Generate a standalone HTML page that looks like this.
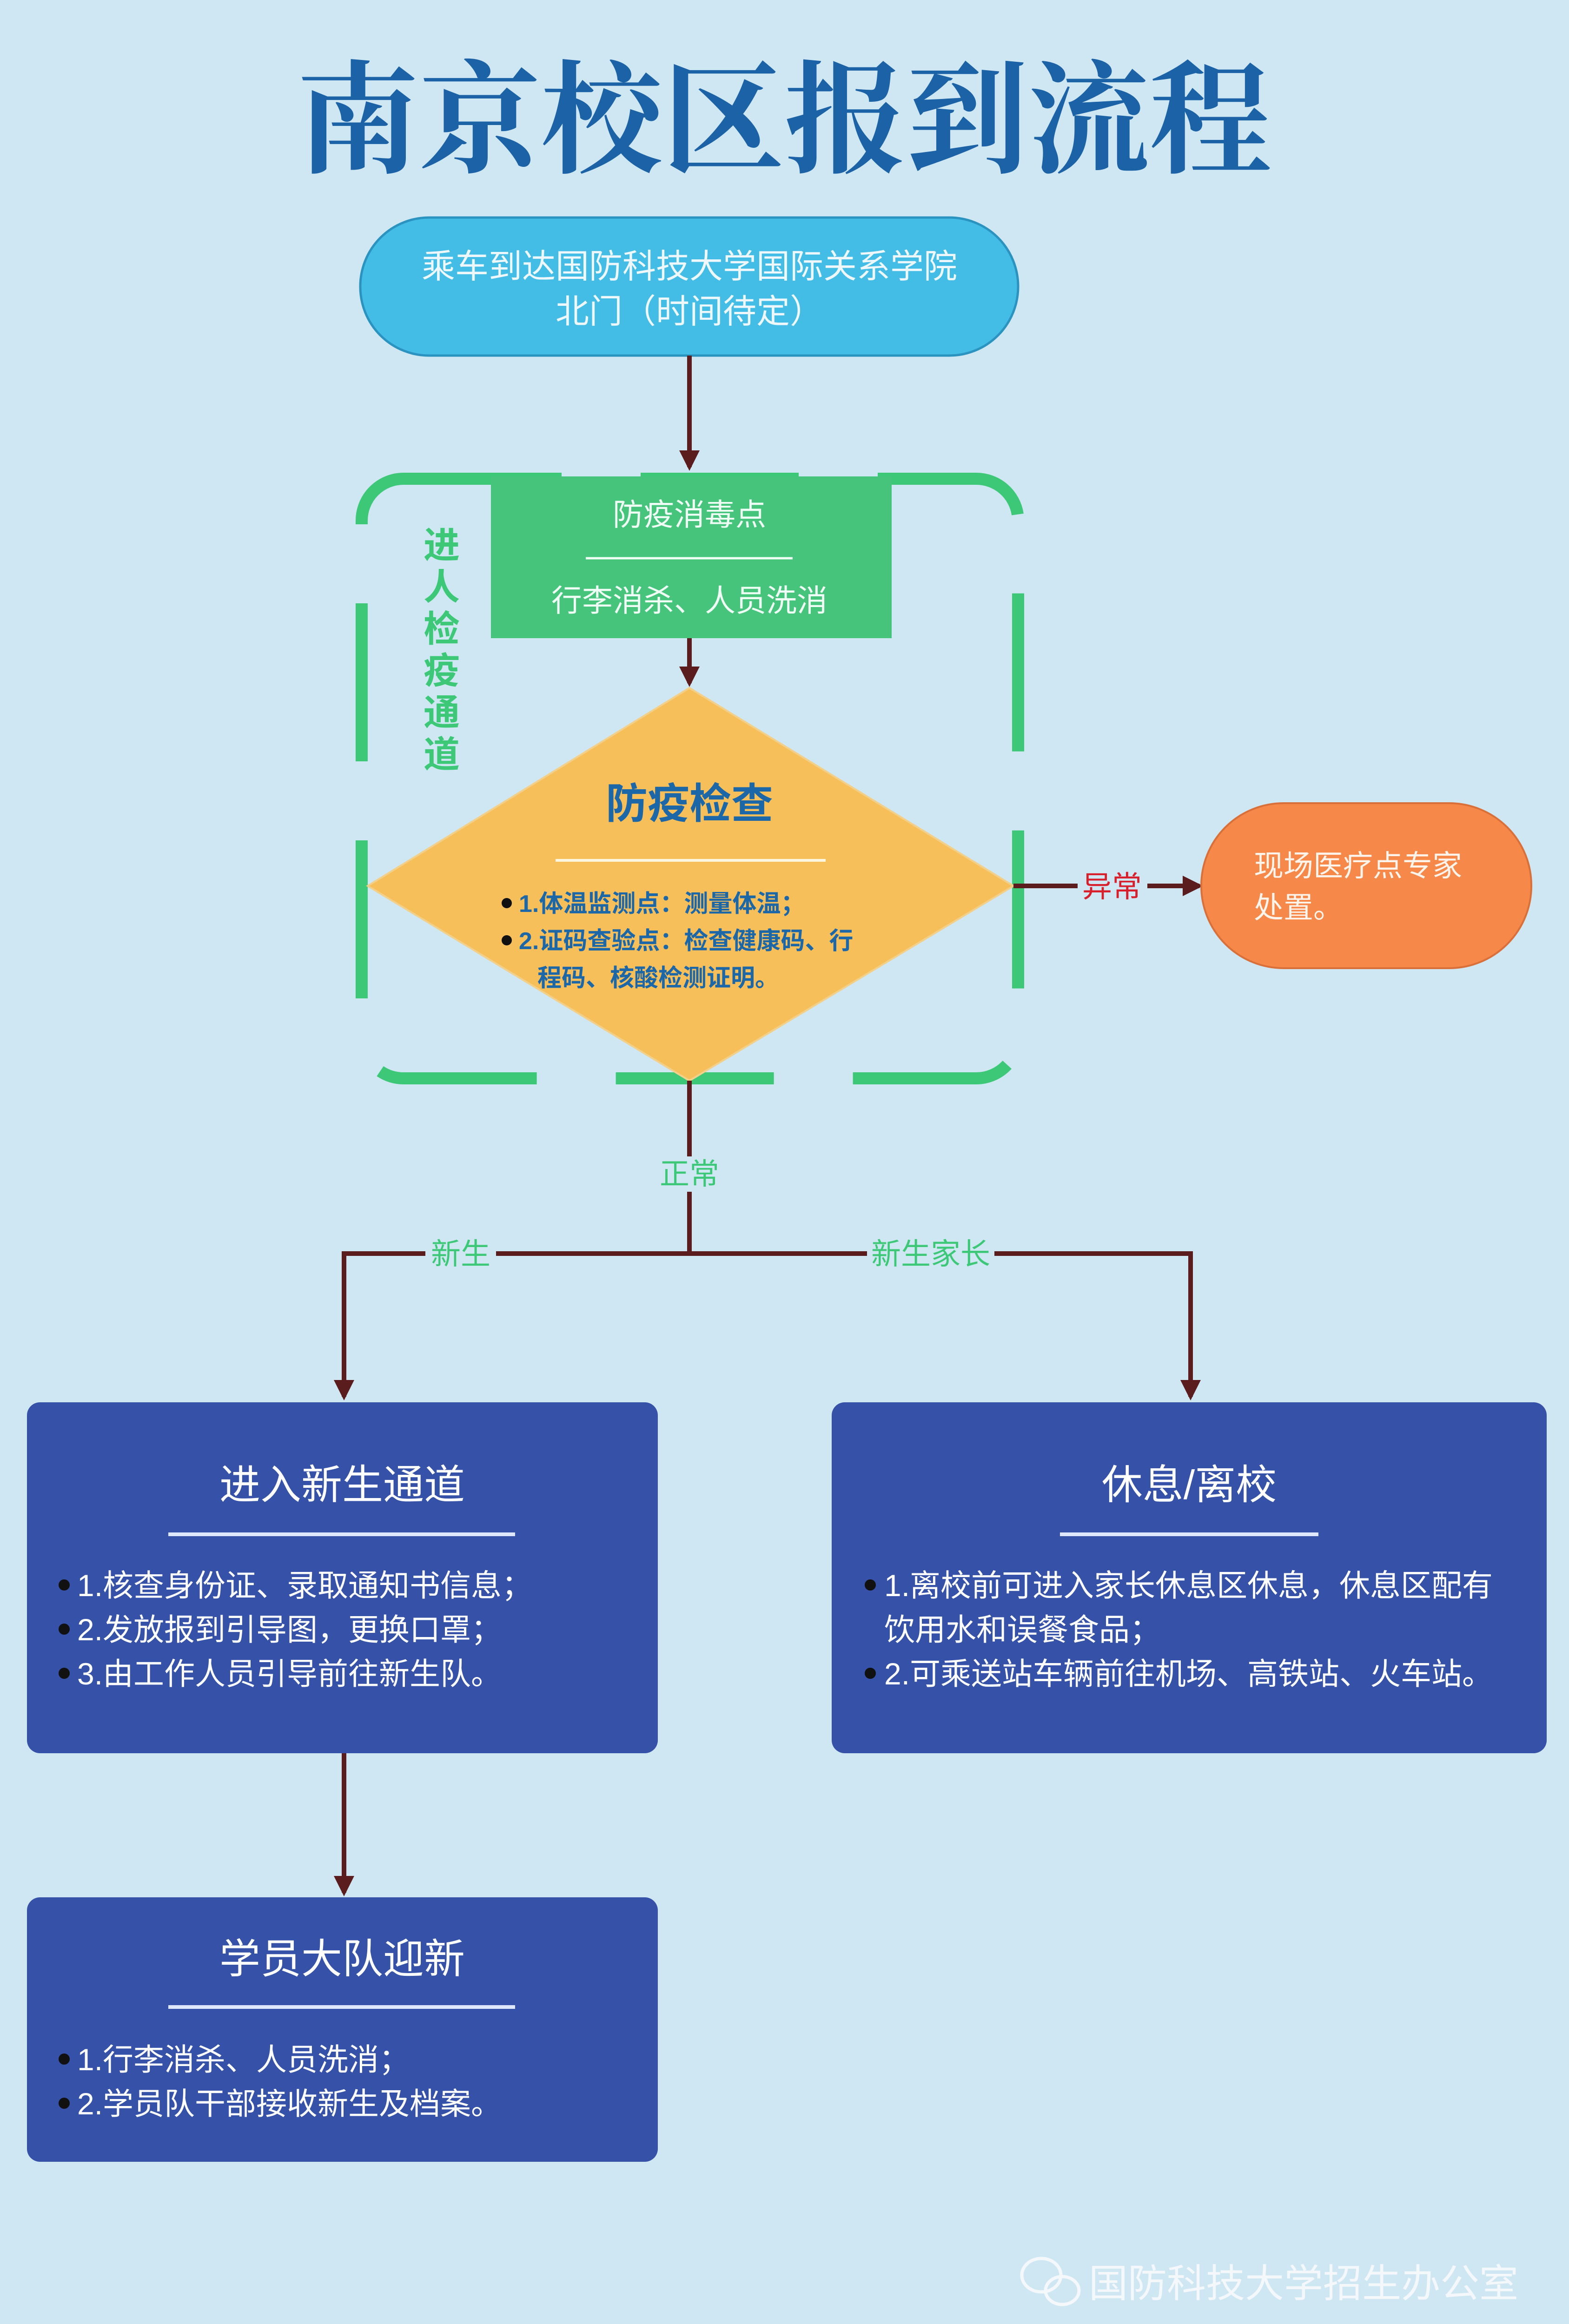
<!DOCTYPE html>
<html><head><meta charset="utf-8"><style>
html,body{margin:0;padding:0;background:#cfe7f3;width:3375px;height:5062px;overflow:hidden;}
svg{display:block;}
text{font-family:"Liberation Sans","Noto Sans CJK SC",sans-serif;}
</style></head><body>
<svg width="3375" height="5062" viewBox="0 0 3375 5062" xmlns="http://www.w3.org/2000/svg">
<defs>
<marker id="ah" markerWidth="4.4" markerHeight="4.4" refX="3.6" refY="2.2" orient="auto" markerUnits="strokeWidth">
<path d="M0,0 L4.4,2.2 L0,4.4 z" fill="#5a1c1c"/></marker>
</defs>
<rect width="3375" height="5062" fill="#cfe7f3"/>
<text x="1687" y="350" text-anchor="middle" font-size="262" font-weight="bold" fill="#1b62a6" style="font-family:'Noto Serif CJK SC','Noto Sans CJK SC',serif">南京校区报到流程</text>

<rect x="775" y="468" width="1415" height="297" rx="148" fill="#43bde6" stroke="#2a93c0" stroke-width="5"/>
<text x="1483" y="598" text-anchor="middle" font-size="72" fill="#eef8fc">乘车到达国防科技大学国际关系学院</text>
<text x="1483" y="695" text-anchor="middle" font-size="72" fill="#eef8fc">北门（时间待定）</text>

<line x1="1483" y1="765" x2="1483" y2="1005" stroke="#5a1c1c" stroke-width="10" marker-end="url(#ah)"/>

<rect x="778" y="1030" width="1412" height="1290" rx="90" fill="none" stroke="#3dc878" stroke-width="26" stroke-dasharray="340 170"/>

<rect x="1056" y="1025" width="862" height="348" fill="#46c47c"/>
<text x="1483" y="1130" text-anchor="middle" font-size="66" fill="#f0fff5">防疫消毒点</text>
<line x1="1260" y1="1201" x2="1705" y2="1201" stroke="#f0fff5" stroke-width="5"/>
<text x="1483" y="1315" text-anchor="middle" font-size="66" fill="#f0fff5">行李消杀、人员洗消</text>

<g fill="#3dc878" font-size="78" font-weight="bold" text-anchor="middle">
<text x="950" y="1200">进</text><text x="950" y="1290">人</text><text x="950" y="1380">检</text>
<text x="950" y="1470">疫</text><text x="950" y="1560">通</text><text x="950" y="1650">道</text>
</g>

<line x1="1483" y1="1373" x2="1483" y2="1470" stroke="#5a1c1c" stroke-width="10" marker-end="url(#ah)"/>

<polygon points="1483,1480 2180,1906 1483,2325 791,1906" fill="#f6bf5a" stroke="#f2d08a" stroke-width="4"/>
<text x="1483" y="1760" text-anchor="middle" font-size="90" font-weight="bold" fill="#1c67a8">防疫检查</text>
<line x1="1195" y1="1851" x2="1776" y2="1851" stroke="#fff6e0" stroke-width="6"/>
<g font-size="52" font-weight="bold" fill="#1c67a8">
<circle cx="1090" cy="1943" r="11" fill="#111"/>
<text x="1116" y="1962">1.体温监测点：测量体温；</text>
<circle cx="1090" cy="2023" r="11" fill="#111"/>
<text x="1116" y="2042">2.证码查验点：检查健康码、行</text>
<text x="1156" y="2122">程码、核酸检测证明。</text>
</g>

<line x1="2180" y1="1906" x2="2580" y2="1906" stroke="#5a1c1c" stroke-width="10" marker-end="url(#ah)"/>
<rect x="2318" y="1870" width="150" height="72" fill="#cfe7f3"/>
<text x="2392" y="1930" text-anchor="middle" font-size="64" fill="#d8202c">异常</text>

<rect x="2584" y="1728" width="710" height="355" rx="177" fill="#f6894a" stroke="#d9703a" stroke-width="4"/>
<text x="2697" y="1885" font-size="64" fill="#fff4ec">现场医疗点专家</text>
<text x="2697" y="1975" font-size="64" fill="#fff4ec">处置。</text>

<line x1="1483" y1="2325" x2="1483" y2="2697" stroke="#5a1c1c" stroke-width="10"/>
<rect x="1400" y="2488" width="166" height="76" fill="#cfe7f3"/>
<text x="1483" y="2548" text-anchor="middle" font-size="64" fill="#3dc878">正常</text>
<path d="M740,2697 H2561 V3005" fill="none" stroke="#5a1c1c" stroke-width="10" marker-end="url(#ah)"/>
<line x1="740" y1="2692" x2="740" y2="3005" stroke="#5a1c1c" stroke-width="10" marker-end="url(#ah)"/>
<rect x="915" y="2660" width="152" height="76" fill="#cfe7f3"/>
<text x="991" y="2720" text-anchor="middle" font-size="64" fill="#3dc878">新生</text>
<rect x="1865" y="2660" width="274" height="76" fill="#cfe7f3"/>
<text x="2002" y="2720" text-anchor="middle" font-size="64" fill="#3dc878">新生家长</text>

<rect x="58" y="3017" width="1357" height="755" rx="28" fill="#3551a8"/>
<text x="736" y="3225" text-anchor="middle" font-size="88" fill="#ffffff">进入新生通道</text>
<line x1="362" y1="3301" x2="1108" y2="3301" stroke="#dfe6ff" stroke-width="8"/>
<g font-size="66" fill="#ffffff">
<circle cx="138" cy="3410" r="12" fill="#111"/><text x="166" y="3434">1.核查身份证、录取通知书信息；</text>
<circle cx="138" cy="3505" r="12" fill="#111"/><text x="166" y="3529">2.发放报到引导图，更换口罩；</text>
<circle cx="138" cy="3600" r="12" fill="#111"/><text x="166" y="3624">3.由工作人员引导前往新生队。</text>
</g>

<rect x="1789" y="3017" width="1538" height="755" rx="28" fill="#3551a8"/>
<text x="2558" y="3225" text-anchor="middle" font-size="88" fill="#ffffff">休息/离校</text>
<line x1="2280" y1="3301" x2="2836" y2="3301" stroke="#dfe6ff" stroke-width="8"/>
<g font-size="66" fill="#ffffff">
<circle cx="1872" cy="3410" r="12" fill="#111"/><text x="1902" y="3434">1.离校前可进入家长休息区休息，休息区配有</text>
<text x="1902" y="3529">饮用水和误餐食品；</text>
<circle cx="1872" cy="3600" r="12" fill="#111"/><text x="1902" y="3624">2.可乘送站车辆前往机场、高铁站、火车站。</text>
</g>

<line x1="740" y1="3772" x2="740" y2="4072" stroke="#5a1c1c" stroke-width="10" marker-end="url(#ah)"/>

<rect x="58" y="4082" width="1357" height="569" rx="28" fill="#3551a8"/>
<text x="736" y="4245" text-anchor="middle" font-size="88" fill="#ffffff">学员大队迎新</text>
<line x1="362" y1="4318" x2="1108" y2="4318" stroke="#dfe6ff" stroke-width="8"/>
<g font-size="66" fill="#ffffff">
<circle cx="138" cy="4430" r="12" fill="#111"/><text x="166" y="4454">1.行李消杀、人员洗消；</text>
<circle cx="138" cy="4525" r="12" fill="#111"/><text x="166" y="4549">2.学员队干部接收新生及档案。</text>
</g>

<g fill="none" stroke="#f4f8fb" stroke-width="7">
<ellipse cx="2240" cy="4895" rx="42" ry="36"/>
<ellipse cx="2285" cy="4928" rx="36" ry="30"/>
</g>
<text x="2342" y="4942" font-size="84" fill="#f4f8fb">国防科技大学招生办公室</text>
</svg>
</body></html>
